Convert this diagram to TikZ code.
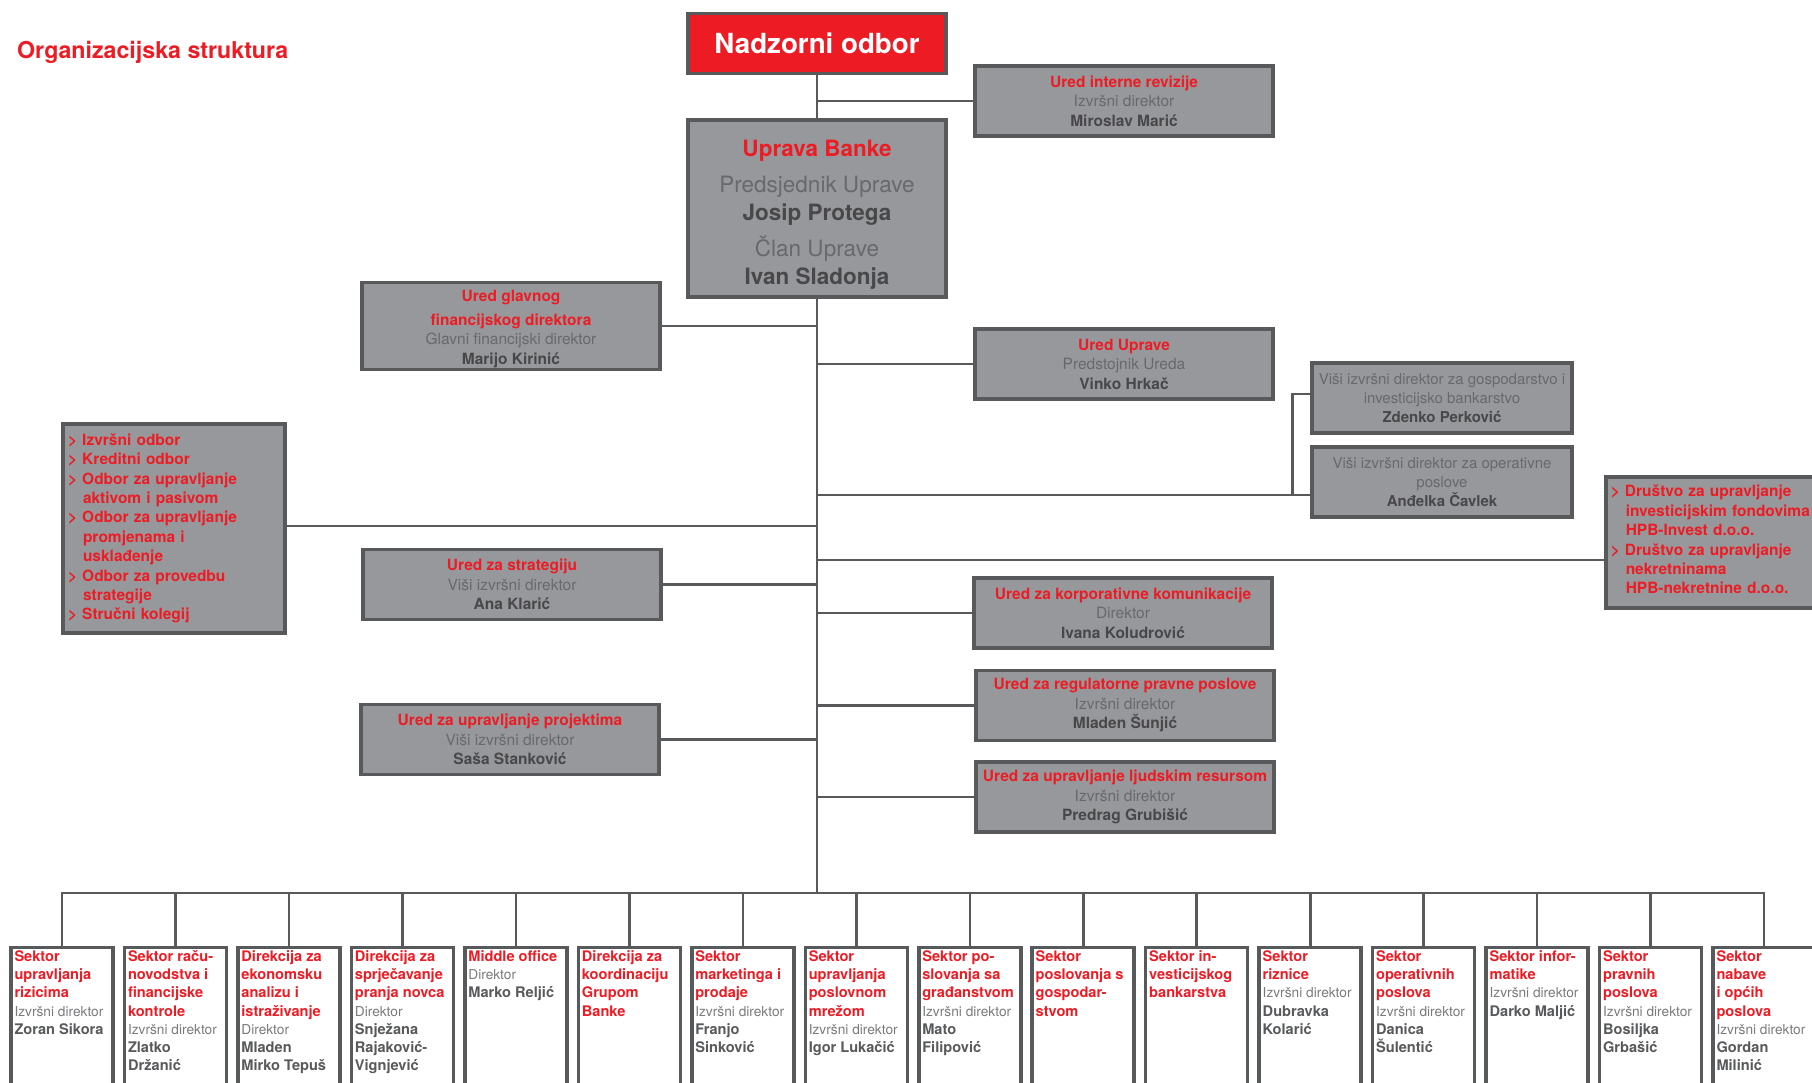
\documentclass[tikz,border=0pt]{standalone}
\usepackage{fontspec}
\setmainfont{TeX Gyre Heros}
\usepackage{tikz}

\definecolor{hpbred}{HTML}{ED1C24}
\definecolor{boxfill}{HTML}{97989B}
\definecolor{boxline}{HTML}{58595B}
\definecolor{rolegray}{HTML}{68696C}
\definecolor{namegray}{HTML}{48484A}

\newcommand\tit[1]{{\color{hpbred}\bfseries #1}}
\newcommand\fun[1]{{\color{rolegray}#1}}
\newcommand\nam[1]{{\color{namegray}\bfseries #1}}
\newcommand\ind{\hspace*{15pt}}
\newcommand\sektortext[1]{\parbox[t][146pt][t]{95pt}{\raggedright\strut #1}}
\newcommand\sfun[1]{{\color{boxline!80!white}\fontsize{13.7}{18.2}\selectfont #1}}

\begin{document}
\begin{tikzpicture}[
  x=1pt,y=-1pt,
  link/.style={boxline,line width=2.6pt},
  board/.style={draw=boxline,fill=hpbred,line width=3.5pt,text=white,
    minimum width=258pt,minimum height=60pt,
    font=\fontsize{27.7}{32}\selectfont\bfseries},
  unit/.style={draw=boxline,fill=boxfill,line width=3.5pt,
    minimum width=298pt,minimum height=70pt,inner sep=2pt,align=center,
    font=\fontsize{15.5}{19.5}\selectfont},
  listbox/.style={unit,align=left,text=hpbred,inner xsep=5pt,
    font=\fontsize{15.5}{19.35}\selectfont\bfseries},
  sector/.style={draw=boxline,fill=white,line width=3.5pt,anchor=north,
    minimum width=102pt,inner xsep=3.5pt,inner ysep=1.5pt,
    font=\fontsize{14.6}{18.2}\selectfont,
    execute at begin node={\colorlet{namegray}{boxline}}}
]
  % page 1812 x 1082, one unit = one pixel of the reference
  \useasboundingbox (0,0) rectangle (1812,1082);

  \node[anchor=base west,text=hpbred,inner sep=0pt,
    font=\fontsize{23.2}{28}\selectfont\bfseries] (title) at (17,58)
    {Organizacijska struktura};

  % board and management on the trunk x = 817
  \node[board] (nad) at (817,43.5) {Nadzorni odbor};
  \node[unit,minimum width=258pt,minimum height=177pt,
    font=\fontsize{22.5}{28}\selectfont] (upr) at (817,208.5)
    {\rule{0pt}{29pt}\tit{Uprava Banke}\\[8pt] \fun{Predsjednik Uprave}\\ \nam{Josip Protega}\\[8pt]
     \fun{Član Uprave}\\ \nam{Ivan Sladonja}};
  \coordinate (bus) at (817,893);

  % offices right of the trunk
  \node[unit] (rev) at (1124,101)
    {\tit{Ured interne revizije}\\ \fun{Izvršni direktor}\\ \nam{Miroslav Marić}};
  \node[unit] (ure) at (1124,364)
    {\tit{Ured Uprave}\\ \fun{Predstojnik Ureda}\\ \nam{Vinko Hrkač}};
  \node[unit,minimum width=260pt,font=\fontsize{15}{19.2}\selectfont] (gos) at (1442,398)
    {\fun{Viši izvršni direktor za gospodarstvo i}\\ \fun{investicijsko bankarstvo}\\
     \nam{Zdenko Perković}};
  \node[unit,minimum width=260pt,font=\fontsize{15}{19.2}\selectfont] (ope) at (1442,482)
    {\fun{Viši izvršni direktor za operativne}\\ \fun{poslove}\\ \nam{Anđelka Čavlek}};
  \node[listbox,anchor=west,minimum width=260pt,minimum height=131pt,
    text width=250pt] (hpb) at (1604,542.5)
    {>~Društvo za upravljanje\\ \ind investicijskim fondovima\\ \ind HPB-Invest d.o.o.\\
     >~Društvo za upravljanje\\ \ind nekretninama\\ \ind HPB-nekretnine d.o.o.\rule[-6pt]{0pt}{6pt}};
  \node[unit] (kor) at (1123,613)
    {\tit{Ured za korporativne komunikacije}\\ \fun{Direktor}\\ \nam{Ivana Koludrović}};
  \node[unit] (reg) at (1125,705.5)
    {\tit{Ured za regulatorne pravne poslove}\\ \fun{Izvršni direktor}\\ \nam{Mladen Šunjić}};
  \node[unit] (lju) at (1125,797)
    {\tit{Ured za upravljanje ljudskim resursom}\\ \fun{Izvršni direktor}\\ \nam{Predrag Grubišić}};

  % offices left of the trunk
  \node[unit,minimum height=86pt] (gla) at (511,326)
    {\rule{0pt}{17.5pt}\tit{Ured glavnog}\\[4pt] \tit{financijskog direktora}\\
     \fun{Glavni financijski direktor}\\ \nam{Marijo Kirinić}};
  \node[listbox,minimum width=222pt,minimum height=209pt,text width=212pt] (odb) at (174,528.5)
    {>~Izvršni odbor\\ >~Kreditni odbor\\ >~Odbor za upravljanje\\ \ind aktivom i pasivom\\
     >~Odbor za upravljanje\\ \ind promjenama i\\ \ind usklađenje\\
     >~Odbor za provedbu\\ \ind strategije\\ >~Stručni kolegij};
  \node[unit] (str) at (512,584.5)
    {\tit{Ured za strategiju}\\ \fun{Viši izvršni direktor}\\ \nam{Ana Klarić}};
  \node[unit] (pro) at (510,739.5)
    {\tit{Ured za upravljanje projektima}\\ \fun{Viši izvršni direktor}\\ \nam{Saša Stanković}};

  % sectors along the bus, pitch 113.47
  \node[sector] (s1) at (62,945.5) {\sektortext{\tit{Sektor\\upravljanja\\rizicima}\\
    \sfun{Izvršni direktor}\\ \nam{Zoran Sikora}}};
  \node[sector] (s2) at (175.5,945.5) {\sektortext{\tit{Sektor raču-\\novodstva i\\financijske\\kontrole}\\
    \sfun{Izvršni direktor}\\ \nam{Zlatko\\Držanić}}};
  \node[sector] (s3) at (288.9,945.5) {\sektortext{\tit{Direkcija za\\ekonomsku\\analizu i\\istraživanje}\\
    \sfun{Direktor}\\ \nam{Mladen\\Mirko Tepuš}}};
  \node[sector] (s4) at (402.4,945.5) {\sektortext{\tit{Direkcija za\\sprječavanje\\pranja novca}\\
    \sfun{Direktor}\\ \nam{Snježana\\Rajaković-\\Vignjević}}};
  \node[sector] (s5) at (515.9,945.5) {\sektortext{\tit{Middle office}\\
    \sfun{Direktor}\\ \nam{Marko Reljić}}};
  \node[sector] (s6) at (629.4,945.5) {\sektortext{\tit{Direkcija za\\koordinaciju\\Grupom\\Banke}}};
  \node[sector] (s7) at (742.8,945.5) {\sektortext{\tit{Sektor\\marketinga i\\prodaje}\\
    \sfun{Izvršni direktor}\\ \nam{Franjo\\Sinković}}};
  \node[sector] (s8) at (856.3,945.5) {\sektortext{\tit{Sektor\\upravljanja\\poslovnom\\mrežom}\\
    \sfun{Izvršni direktor}\\ \nam{Igor Lukačić}}};
  \node[sector] (s9) at (969.8,945.5) {\sektortext{\tit{Sektor po-\\slovanja sa\\građanstvom}\\
    \sfun{Izvršni direktor}\\ \nam{Mato\\Filipović}}};
  \node[sector] (s10) at (1083.2,945.5) {\sektortext{\tit{Sektor\\poslovanja s\\gospodar-\\stvom}}};
  \node[sector] (s11) at (1196.7,945.5) {\sektortext{\tit{Sektor in-\\vesticijskog\\bankarstva}}};
  \node[sector] (s12) at (1310.2,945.5) {\sektortext{\tit{Sektor\\riznice}\\
    \sfun{Izvršni direktor}\\ \nam{Dubravka\\Kolarić}}};
  \node[sector] (s13) at (1423.6,945.5) {\sektortext{\tit{Sektor\\operativnih\\poslova}\\
    \sfun{Izvršni direktor}\\ \nam{Danica\\Šulentić}}};
  \node[sector] (s14) at (1537.1,945.5) {\sektortext{\tit{Sektor infor-\\matike}\\
    \sfun{Izvršni direktor}\\ \nam{Darko Maljić}}};
  \node[sector] (s15) at (1650.6,945.5) {\sektortext{\tit{Sektor\\pravnih\\poslova}\\
    \sfun{Izvršni direktor}\\ \nam{Bosiljka\\Grbašić}}};
  \node[sector] (s16) at (1764,945.5) {\sektortext{\tit{Sektor\\nabave\\i općih\\poslova}\\
    \sfun{Izvršni direktor}\\ \nam{Gordan\\Milinić}}};

  % trunk and branches
  \draw[link] (nad.south) -- (upr.north);
  \draw[link] (upr.south) -- (bus);
  \draw[link] (rev.west) -- (rev.west -| upr.south);
  \draw[link] (gla.east) -- (gla.east -| upr.south);
  \draw[link] (ure.west) -- (ure.west -| upr.south);
  \draw[link] ([yshift=2.5pt]odb.east) -- ([yshift=2.5pt]odb.east -| upr.south);
  \draw[link] ([yshift=-13pt]ope.west) -- ([yshift=-13pt]ope.west -| upr.south);
  \draw[link] ([yshift=-13pt,xshift=-18pt]ope.west) |- ([yshift=4pt]gos.west);
  \draw[link] ([yshift=-17.5pt]hpb.west) -- ([yshift=-17.5pt]hpb.west -| upr.south);
  \draw[link] (str.east) -- (str.east -| upr.south);
  \draw[link] (kor.west) -- (kor.west -| upr.south);
  \draw[link] (pro.east) -- (pro.east -| upr.south);
  \draw[link] (reg.west) -- (reg.west -| upr.south);
  \draw[link] (lju.west) -- (lju.west -| upr.south);
  \foreach \i in {1,...,16}
    \draw[link] (s\i.north) |- (bus);
\end{tikzpicture}
\end{document}
